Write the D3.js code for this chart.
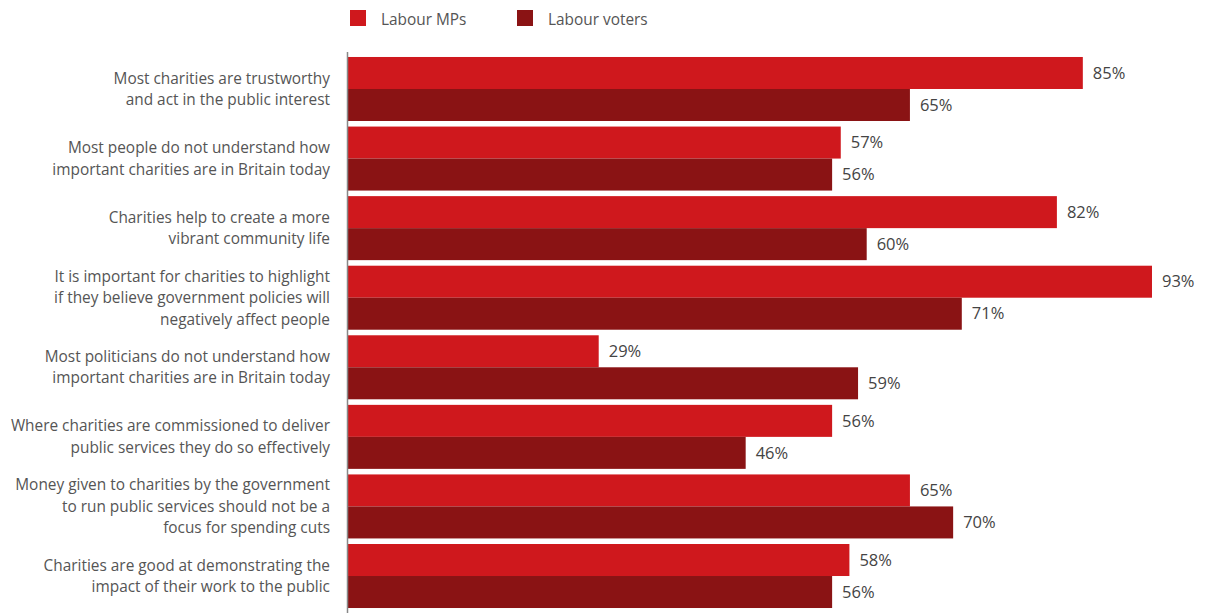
<!DOCTYPE html>
<html>
<head>
<meta charset="utf-8">
<script src="https://cdn.jsdelivr.net/npm/d3@7/dist/d3.min.js"></script>
<style>
  html, body { margin: 0; padding: 0; background: #fff; }
  svg { display: block; font-family: "Open Sans", sans-serif; }
</style>
</head>
<body>
<svg id="chart" width="1212" height="613"></svg>
<script>
const categories = [
  ["Most charities are trustworthy", "and act in the public interest"],
  ["Most people do not understand how", "important charities are in Britain today"],
  ["Charities help to create a more", "vibrant community life"],
  ["It is important for charities to highlight", "if they believe government policies will", "negatively affect people"],
  ["Most politicians do not understand how", "important charities are in Britain today"],
  ["Where charities are commissioned to deliver", "public services they do so effectively"],
  ["Money given to charities by the government", "to run public services should not be a", "focus for spending cuts"],
  ["Charities are good at demonstrating the", "impact of their work to the public"]
];
const seriesNames = ["Labour MPs", "Labour voters"];
const labourMPs = [85, 57, 82, 93, 29, 56, 65, 58];
const labourVoters = [65, 56, 60, 71, 59, 46, 70, 56];
const colors = ["#cf181d", "#8a1314"];

const svg = d3.select("#chart");
const ids = categories.map((c, i) => i);

const x = d3.scaleLinear().domain([0, 100]).range([348, 1212.5]);
const y = d3.scaleBand().domain(ids).range([54.2, 610.8]).paddingInner(0.08).paddingOuter(0.04);
const ySub = d3.scaleBand().domain([0, 1]).range([0, y.bandwidth()]);

const rows = ids.map(i => ({ i, vals: [labourMPs[i], labourVoters[i]] }));

const g = svg.append("g");
const grp = g.selectAll("g.grp").data(rows).join("g")
  .attr("transform", d => `translate(0,${y(d.i)})`);

grp.selectAll("rect").data(d => d.vals.map((v, s) => ({ v, s }))).join("rect")
  .attr("x", x(0))
  .attr("y", d => ySub(d.s))
  .attr("width", d => x(d.v) - x(0))
  .attr("height", ySub.bandwidth())
  .attr("fill", d => colors[d.s]);

grp.selectAll("text.val").data(d => d.vals.map((v, s) => ({ v, s }))).join("text")
  .attr("class", "val")
  .attr("x", d => x(d.v) + 10)
  .attr("y", d => ySub(d.s) + ySub.bandwidth() / 2)
  .attr("dy", "0.35em")
  .attr("font-size", 16.5)
  .attr("fill", "#444")
  .text(d => d.v + "%");

// category labels
const lh = 21.5;
grp.append("text")
  .attr("text-anchor", "end")
  .attr("font-size", 15.4)
  .attr("fill", "#555")
  .each(function (d) {
    const lines = categories[d.i];
    const t = d3.select(this);
    const c = y.bandwidth() / 2;
    lines.forEach((ln, k) => {
      t.append("tspan")
        .attr("x", 330)
        .attr("y", c + (k - (lines.length - 1) / 2) * lh)
        .attr("dy", "0.35em")
        .text(ln);
    });
  });

// axis line
svg.append("line")
  .attr("x1", x(0) - 0.5).attr("x2", x(0) - 0.5)
  .attr("y1", 52).attr("y2", 613)
  .attr("stroke", "#888").attr("stroke-width", 1.5);

// legend
const legendX = [350, 517];
const lg = svg.selectAll("g.leg").data(seriesNames).join("g")
  .attr("transform", (d, i) => `translate(${legendX[i]},10)`);
lg.append("rect").attr("width", 16).attr("height", 16).attr("fill", (d, i) => colors[i]);
lg.append("text").attr("x", 31).attr("y", 10).attr("dy", "0.35em")
  .attr("font-size", 15.4).attr("fill", "#555").text(d => d);
</script>
</body>
</html>
